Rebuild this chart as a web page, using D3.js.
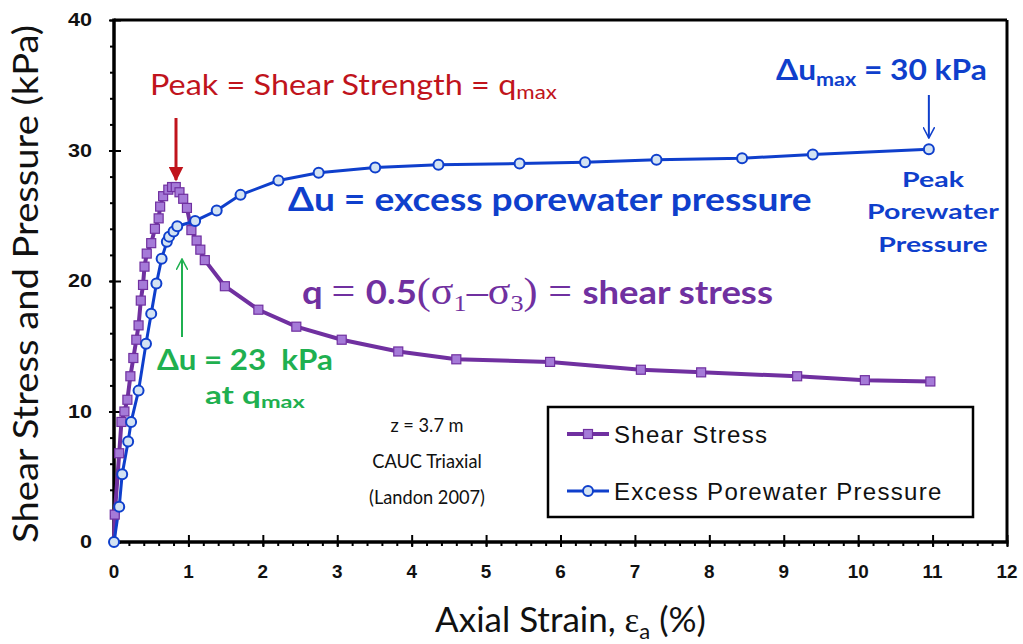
<!DOCTYPE html>
<html>
<head>
<meta charset="utf-8">
<script src="https://cdn.jsdelivr.net/npm/d3@7"></script>
<style>
  html, body { margin: 0; padding: 0; background: #fff; }
  svg { display: block; }
</style>
</head>
<body>
<svg id="chart" width="1023" height="644"></svg>
<script>
// Axial strain (%) and shear stress q (kPa)
const strainQ = [0, 0.01, 0.07, 0.10, 0.14, 0.18, 0.22, 0.26, 0.30, 0.33, 0.36, 0.39, 0.41, 0.44, 0.50, 0.55, 0.60, 0.62, 0.66, 0.73, 0.78, 0.83, 0.88, 0.93, 0.98, 1.04, 1.11, 1.16, 1.22, 1.49, 1.94, 2.45, 3.06, 3.82, 4.60, 5.86, 7.08, 7.89, 9.18, 10.09, 10.97];
const shearStress = [0, 2.1, 6.8, 9.2, 10.0, 10.9, 12.7, 14.1, 15.5, 16.6, 18.5, 19.7, 21.1, 22.1, 22.9, 24.0, 24.8, 25.7, 26.5, 27.0, 27.2, 27.2, 26.8, 26.3, 25.6, 23.9, 23.1, 22.4, 21.6, 19.6, 17.8, 16.5, 15.5, 14.6, 14.0, 13.8, 13.2, 13.0, 12.7, 12.4, 12.3];

// Axial strain (%) and excess porewater pressure Δu (kPa)
const strainU = [0, 0.07, 0.11, 0.19, 0.23, 0.33, 0.43, 0.50, 0.57, 0.64, 0.71, 0.74, 0.80, 0.85, 1.09, 1.38, 1.70, 2.21, 2.75, 3.51, 4.36, 5.45, 6.33, 7.29, 8.44, 9.39, 10.95];
const porePressure = [0, 2.7, 5.2, 7.7, 9.2, 11.6, 15.2, 17.5, 19.8, 21.7, 23.0, 23.4, 23.8, 24.2, 24.6, 25.4, 26.6, 27.7, 28.3, 28.7, 28.9, 29.0, 29.1, 29.3, 29.4, 29.7, 30.1];

const xTicks = [0, 1, 2, 3, 4, 5, 6, 7, 8, 9, 10, 11, 12];
const yTicks = [0, 10, 20, 30, 40];
const legendLabels = ["Shear Stress", "Excess Porewater Pressure"];

const PURPLE = "#7030a0", PURPLE_FILL = "#a57ad8";
const BLUE = "#0f3fcc", BLUE_FILL = "#d3e3f3";
const RED = "#c0141c", GREEN = "#1fb050";
const CAL = "Lato, 'Open Sans', sans-serif";
const ARIAL = "'Liberation Sans', Arial, sans-serif";
const SERIF = "'Liberation Serif', 'DejaVu Serif', serif";

const svg = d3.select("#chart");
const x = d3.scaleLinear().domain([0, 12]).range([114, 1007]);
const y = d3.scaleLinear().domain([0, 40]).range([542, 20]);

// Stretch a text horizontally about anchor ax so that it spans width w.
function fitWidth(sel, ax, w) {
  const bw = sel.node().getBBox().width;
  const sx = w / bw;
  sel.attr("transform", `translate(${ax},0) scale(${sx},1) translate(${-ax},0)`);
  return sx;
}

// defs: arrowheads
const defs = svg.append("defs");
defs.append("marker").attr("id", "arrRed").attr("viewBox", "0 0 10 10")
  .attr("refX", 9).attr("refY", 5).attr("markerWidth", 5).attr("markerHeight", 5)
  .attr("orient", "auto").attr("markerUnits", "strokeWidth")
  .append("path").attr("d", "M0,0 L10,5 L0,10 Z").attr("fill", RED);
function openHead(id, color) {
  defs.append("marker").attr("id", id).attr("viewBox", "0 0 10 10")
    .attr("refX", 9.5).attr("refY", 5).attr("markerWidth", 6).attr("markerHeight", 6)
    .attr("orient", "auto").attr("markerUnits", "strokeWidth")
    .append("path").attr("d", "M1,0.5 L9.5,5 L1,9.5").attr("fill", "none")
    .attr("stroke", color).attr("stroke-width", 1.3).attr("stroke-linecap", "round");
}
openHead("arrGreen", GREEN);
openHead("arrBlue", BLUE);

// frame
svg.append("line").attr("x1", x(0)).attr("x2", x(12)).attr("y1", y(40)).attr("y2", y(40))
  .attr("stroke", "#000").attr("stroke-width", 3);
svg.append("line").attr("x1", x(12)).attr("x2", x(12)).attr("y1", y(0)).attr("y2", y(40))
  .attr("stroke", "#000").attr("stroke-width", 3);

// y axis ticks: minor every 2 kPa outside, major every 10 kPa crossing the axis
const yMinor = svg.append("g").attr("transform", `translate(${x(0)},0)`)
  .call(d3.axisLeft(y).tickValues(d3.range(0, 41, 2)).tickSize(4).tickFormat(""));
const yMajorIn = svg.append("g").attr("transform", `translate(${x(0)},0)`)
  .call(d3.axisRight(y).tickValues(yTicks).tickSize(7).tickFormat(""));
const yMajorOut = svg.append("g").attr("transform", `translate(${x(0)},0)`)
  .call(d3.axisLeft(y).tickValues(yTicks).tickSize(5).tickFormat(""));

// x axis ticks: minor every 0.2 % below, major every 1 % crossing the axis
const xMinor = svg.append("g").attr("transform", `translate(0,${y(0)})`)
  .call(d3.axisBottom(x).tickValues(d3.range(0, 60.5, 1).map(v => v / 5)).tickSize(4).tickFormat(""));
const xMajorIn = svg.append("g").attr("transform", `translate(0,${y(0)})`)
  .call(d3.axisTop(x).tickValues(xTicks).tickSize(7).tickFormat(""));
const xMajorOut = svg.append("g").attr("transform", `translate(0,${y(0)})`)
  .call(d3.axisBottom(x).tickValues(xTicks).tickSize(5).tickFormat(""));

[yMinor, yMajorIn, yMajorOut, xMinor, xMajorIn, xMajorOut].forEach(g => {
  g.select(".domain").remove();
  g.selectAll(".tick line").attr("stroke", "#000").attr("stroke-width", 2);
});

// tick labels
const yLab = svg.append("g").selectAll("text").data(yTicks).join("text")
  .attr("x", 92).attr("y", d => y(d) + 6.5).attr("text-anchor", "end")
  .attr("font-family", ARIAL).attr("font-weight", "bold").attr("font-size", 18).attr("fill", "#111")
  .text(d => d);
{
  const sx = 24 / yLab.filter(d => d === 40).node().getBBox().width;
  yLab.attr("transform", `translate(92,0) scale(${sx},1) translate(-92,0)`);
}
const xLab = svg.append("g").selectAll("text").data(xTicks).join("text")
  .attr("x", d => x(d)).attr("y", 578).attr("text-anchor", "middle")
  .attr("font-family", ARIAL).attr("font-weight", "bold").attr("font-size", 18).attr("fill", "#111")
  .text(d => d);
{
  const sx = 21 / xLab.filter(d => d === 12).node().getBBox().width;
  xLab.attr("transform", d => `translate(${x(d)},0) scale(${sx},1) translate(${-x(d)},0)`);
}

svg.append("line").attr("x1", x(0)).attr("x2", x(0)).attr("y1", y(0) + 1.5).attr("y2", y(40) - 1.5)
  .attr("stroke", "#000").attr("stroke-width", 3.5);
svg.append("line").attr("x1", x(0) - 1.5).attr("x2", x(12) + 1.5).attr("y1", y(0)).attr("y2", y(0))
  .attr("stroke", "#000").attr("stroke-width", 3.5);

// axis titles
svg.append("text").attr("x", (x(0) + x(12)) / 2 + 10).attr("y", 632)
  .attr("text-anchor", "middle").attr("font-family", CAL).attr("font-size", 35).attr("fill", "#111")
  .call(t => {
    t.append("tspan").text("Axial Strain, ");
    t.append("tspan").attr("font-family", SERIF).text("ε");
    t.append("tspan").attr("font-size", 22).attr("dy", 7).text("a");
    t.append("tspan").attr("dy", -7).text(" (%)");
  });
const yTitle = svg.append("text").attr("text-anchor", "middle").attr("font-family", CAL)
  .attr("font-size", 35).attr("fill", "#111").text("Shear Stress and Pressure (kPa)");
{
  const sx = 518 / yTitle.node().getBBox().width;
  yTitle.attr("transform", `translate(38,${(y(0) + y(40)) / 2 + 3}) rotate(-90) scale(${sx},1)`);
}

// series lines and markers
const ptsQ = strainQ.map((s, i) => [s, shearStress[i]]);
const ptsU = strainU.map((s, i) => [s, porePressure[i]]);
const line = d3.line().x(d => x(d[0])).y(d => y(d[1]));

svg.append("path").datum(ptsQ).attr("d", line).attr("fill", "none")
  .attr("stroke", PURPLE).attr("stroke-width", 4).attr("stroke-linejoin", "round");
svg.append("path").datum(ptsU).attr("d", line).attr("fill", "none")
  .attr("stroke", BLUE).attr("stroke-width", 3).attr("stroke-linejoin", "round");

svg.append("g").selectAll("rect").data(ptsQ.slice(1)).join("rect")
  .attr("x", d => x(d[0]) - 4.5).attr("y", d => y(d[1]) - 4.5)
  .attr("width", 9).attr("height", 9)
  .attr("fill", PURPLE_FILL).attr("stroke", PURPLE).attr("stroke-width", 1.2);
svg.append("g").selectAll("circle").data(ptsU).join("circle")
  .attr("cx", d => x(d[0])).attr("cy", d => y(d[1])).attr("r", 5)
  .attr("fill", BLUE_FILL).attr("stroke", BLUE).attr("stroke-width", 2);

// annotations
const peakTxt = svg.append("text").attr("x", 150).attr("y", 95).attr("font-family", CAL).attr("font-size", 29)
  .attr("fill", RED).call(t => {
    t.append("tspan").text("Peak = Shear Strength = q");
    t.append("tspan").attr("font-size", 20).attr("dy", 4).text("max");
  });
fitWidth(peakTxt, 150, 407);
svg.append("line").attr("x1", 176).attr("x2", 176).attr("y1", 118).attr("y2", 180)
  .attr("stroke", RED).attr("stroke-width", 3).attr("marker-end", "url(#arrRed)");

const duTxt = svg.append("text").attr("x", 288).attr("y", 211).attr("font-family", CAL).attr("font-weight", "bold")
  .attr("font-size", 32).attr("fill", BLUE).text("Δu = excess porewater pressure");
fitWidth(duTxt, 288, 524);

const qTxt = svg.append("text").attr("x", 302).attr("y", 304).attr("font-family", CAL).attr("font-weight", "bold")
  .attr("font-size", 32).attr("fill", PURPLE).call(t => {
    const s = (txt) => t.append("tspan").attr("font-family", SERIF).attr("font-weight", "normal").attr("font-size", 37).text(txt);
    t.append("tspan").text("q ");
    s("= ");
    t.append("tspan").text("0.5");
    s("(σ");
    s("1").attr("font-size", 23).attr("dy", 7);
    s("–σ").attr("dy", -7);
    s("3").attr("font-size", 23).attr("dy", 7);
    s(") = ").attr("dy", -7);
    t.append("tspan").text("shear stress");
  });
fitWidth(qTxt, 302, 471);

svg.append("line").attr("x1", 182).attr("x2", 182).attr("y1", 337).attr("y2", 259)
  .attr("stroke", GREEN).attr("stroke-width", 2).attr("marker-end", "url(#arrGreen)");
const greenTxt = svg.append("text").attr("x", 157).attr("y", 370).attr("font-family", CAL).attr("font-weight", "bold")
  .attr("font-size", 28).attr("fill", GREEN).attr("xml:space", "preserve").text("Δu = 23  kPa");
fitWidth(greenTxt, 157, 176);
const atTxt = svg.append("text").attr("x", 205).attr("y", 404).attr("font-family", CAL).attr("font-weight", "bold")
  .attr("font-size", 24).attr("fill", GREEN).call(t => {
    t.append("tspan").text("at q");
    t.append("tspan").attr("font-size", 17).attr("dy", 4).text("max");
  });
fitWidth(atTxt, 205, 100);

const maxTxt = svg.append("text").attr("x", 776).attr("y", 80).attr("font-family", CAL).attr("font-weight", "bold")
  .attr("font-size", 28).attr("fill", BLUE).call(t => {
    t.append("tspan").text("Δu");
    t.append("tspan").attr("font-size", 19).attr("dy", 6).text("max");
    t.append("tspan").attr("dy", -6).text(" = 30 kPa");
  });
fitWidth(maxTxt, 776, 211);
svg.append("line").attr("x1", x(10.95)).attr("x2", x(10.95)).attr("y1", 95).attr("y2", 138)
  .attr("stroke", BLUE).attr("stroke-width", 2).attr("marker-end", "url(#arrBlue)");

const peakPw = svg.append("text").attr("font-family", CAL).attr("font-weight", "bold").attr("font-size", 21)
  .attr("fill", BLUE).attr("text-anchor", "middle");
peakPw.selectAll("tspan").data(["Peak", "Porewater", "Pressure"]).join("tspan")
  .attr("x", 933).attr("y", (d, i) => 187 + i * 32.5).text(d => d);
{
  const wPw = peakPw.selectAll("tspan").nodes()[1].getComputedTextLength();
  const sx = 132 / wPw;
  peakPw.attr("transform", `translate(933,0) scale(${sx},1) translate(-933,0)`);
}

const note = svg.append("text").attr("font-family", CAL).attr("font-size", 19.5).attr("fill", "#111")
  .attr("text-anchor", "middle");
note.selectAll("tspan").data(["z = 3.7 m", "CAUC Triaxial", "(Landon 2007)"]).join("tspan")
  .attr("x", 427).attr("y", (d, i) => 432 + i * 36).text(d => d);
{
  const wL = note.selectAll("tspan").nodes()[2].getComputedTextLength();
  const sx = 116 / wL;
  note.attr("transform", `translate(427,0) scale(${sx},1) translate(-427,0)`);
}

// legend
const lg = svg.append("g");
lg.append("rect").attr("x", 548).attr("y", 407).attr("width", 425).attr("height", 110)
  .attr("fill", "#fff").attr("stroke", "#000").attr("stroke-width", 2.5);
const rows = lg.selectAll("g.row").data(legendLabels).join("g").attr("class", "row")
  .attr("transform", (d, i) => `translate(567,${434 + i * 57})`);
rows.append("line").attr("x1", 0).attr("x2", 42).attr("stroke", (d, i) => i ? BLUE : PURPLE)
  .attr("stroke-width", (d, i) => i ? 3 : 4);
rows.filter((d, i) => i === 0).append("rect").attr("x", 16.5).attr("y", -4.5).attr("width", 9).attr("height", 9)
  .attr("fill", PURPLE_FILL).attr("stroke", PURPLE).attr("stroke-width", 1.2);
rows.filter((d, i) => i === 1).append("circle").attr("cx", 21).attr("r", 5)
  .attr("fill", BLUE_FILL).attr("stroke", BLUE).attr("stroke-width", 2);
rows.append("text").attr("x", 47).attr("y", 9).attr("font-family", ARIAL).attr("font-size", 24)
  .attr("letter-spacing", 1.3).attr("fill", "#111").text(d => d);
</script>
</body>
</html>
